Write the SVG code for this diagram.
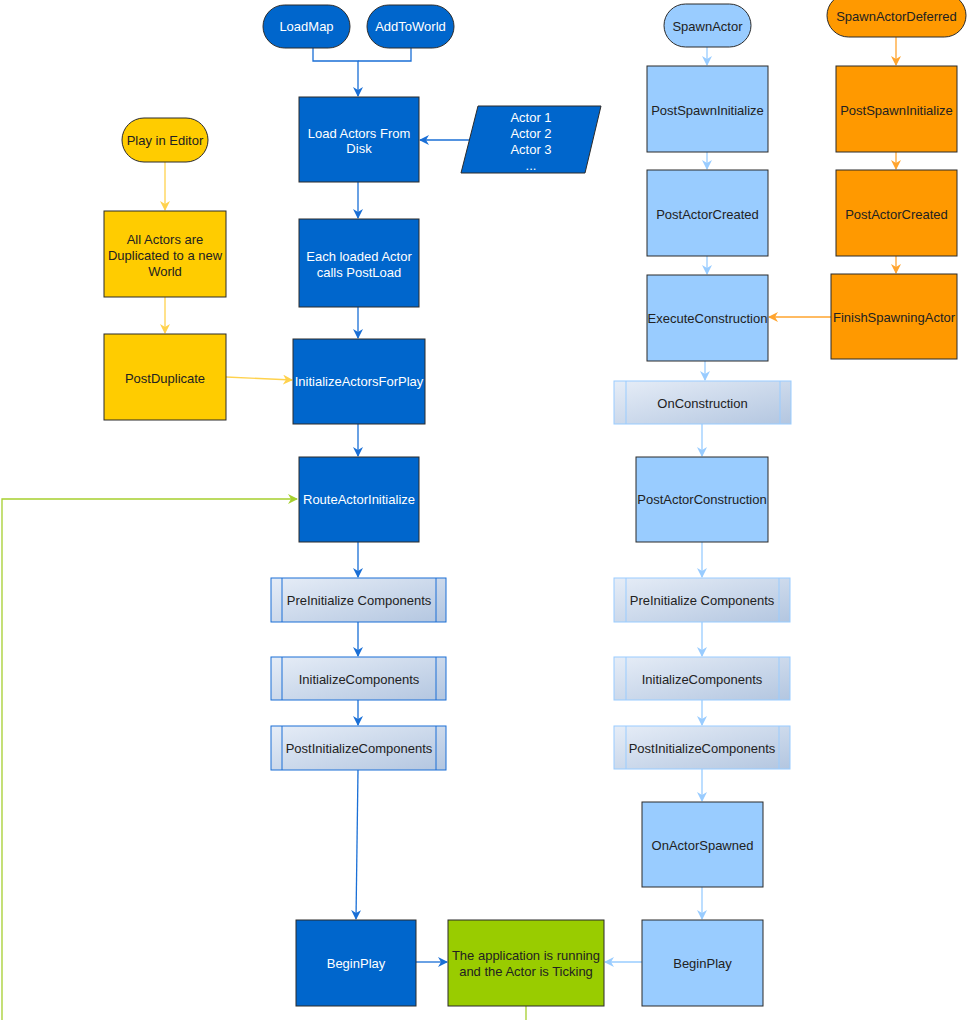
<svg xmlns="http://www.w3.org/2000/svg" width="980" height="1020" viewBox="0 0 980 1020">
<defs>
<linearGradient id="sub" x1="0" y1="0" x2="1" y2="1">
<stop offset="0" stop-color="#E6EDF7"/>
<stop offset="1" stop-color="#B3C6E0"/>
</linearGradient>
<marker id="aBlue" viewBox="0 0 10 10" refX="9" refY="5" markerWidth="10" markerHeight="10" markerUnits="userSpaceOnUse" orient="auto"><path d="M0,0 L10,5 L0,10 L3,5 z" fill="#1A6FD6"/></marker>
<marker id="aLight" viewBox="0 0 10 10" refX="9" refY="5" markerWidth="10" markerHeight="10" markerUnits="userSpaceOnUse" orient="auto"><path d="M0,0 L10,5 L0,10 L3,5 z" fill="#99CCFF"/></marker>
<marker id="aOrange" viewBox="0 0 10 10" refX="9" refY="5" markerWidth="10" markerHeight="10" markerUnits="userSpaceOnUse" orient="auto"><path d="M0,0 L10,5 L0,10 L3,5 z" fill="#FFA42E"/></marker>
<marker id="aYellow" viewBox="0 0 10 10" refX="9" refY="5" markerWidth="10" markerHeight="10" markerUnits="userSpaceOnUse" orient="auto"><path d="M0,0 L10,5 L0,10 L3,5 z" fill="#FFD24D"/></marker>
<marker id="aGreen" viewBox="0 0 10 10" refX="9" refY="5" markerWidth="10" markerHeight="10" markerUnits="userSpaceOnUse" orient="auto"><path d="M0,0 L10,5 L0,10 L3,5 z" fill="#A6CF2E"/></marker>
</defs>
<style>
text{font-family:"Liberation Sans",Arial,sans-serif;font-size:13px;text-anchor:middle;dominant-baseline:central}
.w{fill:#FFFFFF}
.d{fill:#222222}
.blue{fill:#0066CC;stroke:#2B2B2B;stroke-width:1}
.light{fill:#99CCFF;stroke:#2B2B2B;stroke-width:1}
.orange{fill:#FF9900;stroke:#2B2B2B;stroke-width:1}
.yellow{fill:#FFCC00;stroke:#2B2B2B;stroke-width:1}
.green{fill:#99CC00;stroke:#2B2B2B;stroke-width:1}
.subB{fill:url(#sub);stroke:#1A6FD6;stroke-width:1}
.subL{fill:url(#sub);stroke:#99CCFF;stroke-width:1}
.inB{stroke:#1A6FD6;stroke-width:1;fill:none}
.inL{stroke:#99CCFF;stroke-width:1;fill:none}
.lB{stroke:#1A6FD6;stroke-width:1.3;fill:none}
.cB{stroke:#1A6FD6;stroke-width:1.3;fill:none;marker-end:url(#aBlue)}
.cL{stroke:#99CCFF;stroke-width:1.3;fill:none;marker-end:url(#aLight)}
.cO{stroke:#FFA42E;stroke-width:1.3;fill:none;marker-end:url(#aOrange)}
.cY{stroke:#FFD24D;stroke-width:1.3;fill:none;marker-end:url(#aYellow)}
.cG{stroke:#A6CF2E;stroke-width:1.3;fill:none;marker-end:url(#aGreen)}
</style>
<g id="connectors">
<path class="cB" d="M313,48 V61 H358 V96"/>
<path class="lB" d="M411,48 V61 H358"/>
<path class="cB" d="M470,140 H420"/>
<path class="cB" d="M358,182 V218"/>
<path class="cB" d="M358,307 V338"/>
<path class="cB" d="M358,424 V456"/>
<path class="cB" d="M358,542 V577"/>
<path class="cB" d="M358,622 V656"/>
<path class="cB" d="M358,700 V725"/>
<path class="cB" d="M358,770 L356,919"/>
<path class="cB" d="M416,962 H447"/>
<path class="cL" d="M642,962 H605"/>
<path class="cY" d="M165,162 V210"/>
<path class="cY" d="M165,297 V333"/>
<path class="cY" d="M226,377 L292,380"/>
<path class="cL" d="M707,47 V65"/>
<path class="cL" d="M707,152 V169"/>
<path class="cL" d="M707,256 V274"/>
<path class="cL" d="M705,361 V380"/>
<path class="cL" d="M702,424 V456"/>
<path class="cL" d="M702,542 V577"/>
<path class="cL" d="M702,622 V656"/>
<path class="cL" d="M702,700 V725"/>
<path class="cL" d="M702,769 V801"/>
<path class="cL" d="M702,887 V919"/>
<path class="cO" d="M896,37 V65"/>
<path class="cO" d="M896,152 V169"/>
<path class="cO" d="M896,256 V273"/>
<path class="cO" d="M831,317 H769"/>
<path class="cG" d="M526,1006 V1040 H2 V499 H297"/>
</g>
<g id="LoadMap"><rect class="blue" x="263" y="5" width="87" height="43" rx="21.5"/><text class="w" x="306.5" y="26.5">LoadMap</text></g>
<g id="AddToWorld"><rect class="blue" x="367" y="5" width="87" height="43" rx="21.5"/><text class="w" x="410.5" y="26.5">AddToWorld</text></g>
<g id="LoadActorsFromDisk"><rect class="blue" x="299" y="97" width="120" height="85"/><text class="w" x="359" y="133">Load Actors From</text><text class="w" x="359" y="148">Disk</text></g>
<g id="ActorList"><polygon class="blue" points="478,106 601,106 585,173 461,173"/><text class="w" x="531" y="117">Actor 1</text><text class="w" x="531" y="133">Actor 2</text><text class="w" x="531" y="149">Actor 3</text><text class="w" x="531" y="165">...</text></g>
<g id="EachLoaded"><rect class="blue" x="299" y="219" width="120" height="88"/><text class="w" x="359" y="256">Each loaded Actor</text><text class="w" x="359" y="272">calls PostLoad</text></g>
<g id="InitializeActorsForPlay"><rect class="blue" x="293" y="339" width="132" height="85"/><text class="w" x="359" y="381">InitializeActorsForPlay</text></g>
<g id="RouteActorInitialize"><rect class="blue" x="299" y="457" width="120" height="85"/><text class="w" x="359" y="499">RouteActorInitialize</text></g>
<g id="PreInitL"><rect class="subB" x="271" y="578" width="175" height="44"/><path class="inB" d="M282,578 V622 M436,578 V622"/><text class="d" x="359" y="600">PreInitialize Components</text></g>
<g id="InitL"><rect class="subB" x="271" y="657" width="175" height="43"/><path class="inB" d="M282,657 V700 M436,657 V700"/><text class="d" x="359" y="679">InitializeComponents</text></g>
<g id="PostInitL"><rect class="subB" x="271" y="726" width="175" height="44"/><path class="inB" d="M282,726 V770 M436,726 V770"/><text class="d" x="359" y="748">PostInitializeComponents</text></g>
<g id="BeginPlayL"><rect class="blue" x="296" y="920" width="120" height="86"/><text class="w" x="356" y="963">BeginPlay</text></g>
<g id="Running"><rect class="green" x="448" y="920" width="156" height="86"/><text class="d" x="526" y="955">The application is running</text><text class="d" x="526" y="971">and the Actor is Ticking</text></g>
<g id="PlayInEditor"><rect class="yellow" x="122" y="118" width="86" height="44" rx="22"/><text class="d" x="165" y="140">Play in Editor</text></g>
<g id="Duplicated"><rect class="yellow" x="104" y="211" width="122" height="86"/><text class="d" x="165" y="239">All Actors are</text><text class="d" x="165" y="255">Duplicated to a new</text><text class="d" x="165" y="271">World</text></g>
<g id="PostDuplicate"><rect class="yellow" x="104" y="334" width="122" height="86"/><text class="d" x="165" y="378">PostDuplicate</text></g>
<g id="SpawnActor"><rect class="light" x="664" y="4" width="87" height="43" rx="21.5"/><text class="d" x="707.5" y="26">SpawnActor</text></g>
<g id="PostSpawnInitR"><rect class="light" x="647" y="66" width="121" height="86"/><text class="d" x="707.5" y="110">PostSpawnInitialize</text></g>
<g id="PostActorCreatedR"><rect class="light" x="647" y="170" width="121" height="86"/><text class="d" x="707.5" y="214">PostActorCreated</text></g>
<g id="ExecuteConstruction"><rect class="light" x="647" y="275" width="121" height="86"/><text class="d" x="707.5" y="318">ExecuteConstruction</text></g>
<g id="OnConstruction"><rect class="subL" x="614" y="381" width="177" height="43"/><path class="inL" d="M626,381 V424 M780,381 V424"/><text class="d" x="702.5" y="403">OnConstruction</text></g>
<g id="PostActorConstruction"><rect class="light" x="636" y="457" width="132" height="85"/><text class="d" x="702" y="499">PostActorConstruction</text></g>
<g id="PreInitR"><rect class="subL" x="614" y="578" width="176" height="44"/><path class="inL" d="M626,578 V622 M779,578 V622"/><text class="d" x="702" y="600">PreInitialize Components</text></g>
<g id="InitR"><rect class="subL" x="614" y="657" width="176" height="43"/><path class="inL" d="M626,657 V700 M779,657 V700"/><text class="d" x="702" y="679">InitializeComponents</text></g>
<g id="PostInitR"><rect class="subL" x="614" y="726" width="176" height="43"/><path class="inL" d="M626,726 V769 M779,726 V769"/><text class="d" x="702" y="748">PostInitializeComponents</text></g>
<g id="OnActorSpawned"><rect class="light" x="642" y="802" width="121" height="85"/><text class="d" x="702.5" y="845">OnActorSpawned</text></g>
<g id="BeginPlayR"><rect class="light" x="642" y="920" width="121" height="86"/><text class="d" x="702.5" y="963">BeginPlay</text></g>
<g id="SpawnActorDeferred"><rect class="orange" x="827" y="-6" width="139" height="43" rx="21.5"/><text class="d" x="896.5" y="16">SpawnActorDeferred</text></g>
<g id="PostSpawnInitO"><rect class="orange" x="836" y="66" width="121" height="86"/><text class="d" x="896.5" y="110">PostSpawnInitialize</text></g>
<g id="PostActorCreatedO"><rect class="orange" x="836" y="170" width="121" height="86"/><text class="d" x="896.5" y="214">PostActorCreated</text></g>
<g id="FinishSpawningActor"><rect class="orange" x="831" y="274" width="126" height="85"/><text class="d" x="894" y="317">FinishSpawningActor</text></g>
</svg>
